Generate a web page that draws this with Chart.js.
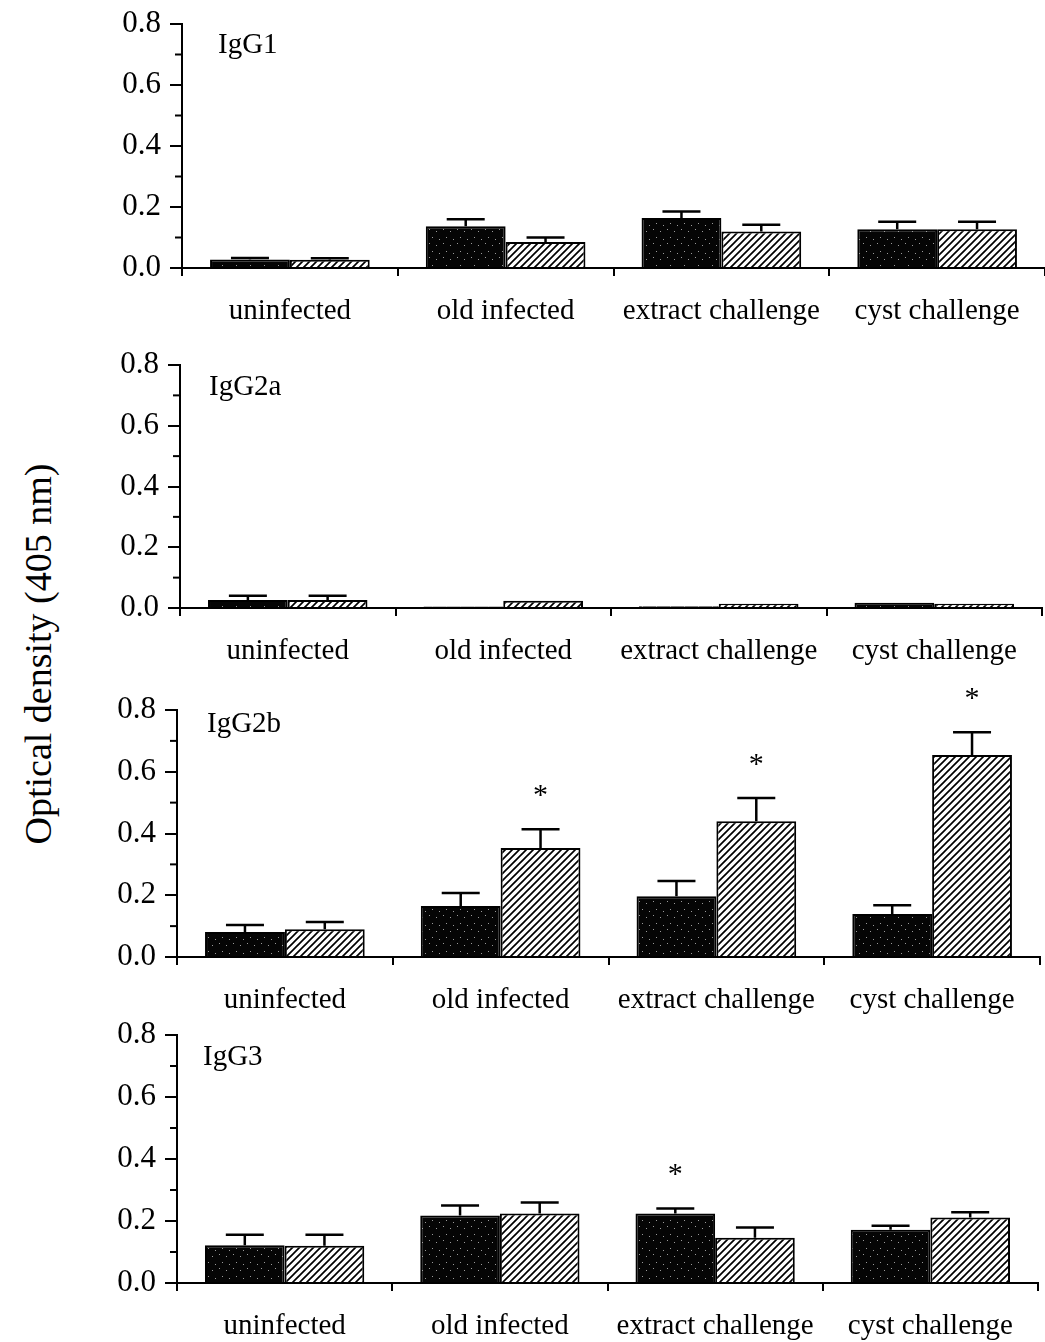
<!DOCTYPE html>
<html lang="en">
<head>
  <meta charset="UTF-8">
  <title>Optical density by IgG subclass</title>
  <script src="https://cdn.jsdelivr.net/npm/chart.js"></script>
  <style>
    body { margin: 0; background: #fff; }
    #page { position: relative; width: 1045px; height: 1342px; overflow: hidden; }
    #page canvas { position: absolute; left: 0; }
    #ytitle {
      position: absolute; left: 38px; top: 654px;
      transform: translate(-50%, -50%) rotate(-90deg);
      font: 38px "Liberation Serif", "Times New Roman", serif;
      white-space: nowrap; color: #000;
    }
  </style>
</head>
<body>
  <div id="page">
    <div id="ytitle">Optical density (405 nm)</div>
  </div>

  <script>
    // ---- data ----
    const categories = ['uninfected', 'old infected', 'extract challenge', 'cyst challenge'];
    const subclasses = ['IgG1', 'IgG2a', 'IgG2b', 'IgG3'];
    const yTicks = [0.0, 0.2, 0.4, 0.6, 0.8];

    // solid (stippled black) bars and hatched bars, with upward error
    const igg1Solid = [0.028, 0.137, 0.164, 0.127];
    const igg1SolidErr = [0.005, 0.023, 0.021, 0.025];
    const igg1Hatch = [0.027, 0.085, 0.120, 0.127];
    const igg1HatchErr = [0.005, 0.015, 0.022, 0.025];

    const igg2aSolid = [0.026, 0.005, 0.006, 0.017];
    const igg2aSolidErr = [0.014, 0, 0, 0];
    const igg2aHatch = [0.026, 0.024, 0.014, 0.014];
    const igg2aHatchErr = [0.014, 0, 0, 0];

    const igg2bSolid = [0.081, 0.165, 0.197, 0.139];
    const igg2bSolidErr = [0.023, 0.042, 0.049, 0.029];
    const igg2bHatch = [0.090, 0.353, 0.440, 0.654];
    const igg2bHatchErr = [0.023, 0.061, 0.075, 0.074];

    const igg3Solid = [0.122, 0.218, 0.224, 0.172];
    const igg3SolidErr = [0.034, 0.032, 0.016, 0.013];
    const igg3Hatch = [0.120, 0.224, 0.146, 0.211];
    const igg3HatchErr = [0.036, 0.036, 0.033, 0.017];

    // significance marks (*)
    const igg1Stars = [[false, false, false, false], [false, false, false, false]];
    const igg2aStars = [[false, false, false, false], [false, false, false, false]];
    const igg2bStars = [[false, false, false, false], [false, true, true, true]];
    const igg3Stars = [[false, false, true, false], [false, false, false, false]];

    const panelData = [
      { solid: igg1Solid, solidErr: igg1SolidErr, hatch: igg1Hatch, hatchErr: igg1HatchErr, stars: igg1Stars },
      { solid: igg2aSolid, solidErr: igg2aSolidErr, hatch: igg2aHatch, hatchErr: igg2aHatchErr, stars: igg2aStars },
      { solid: igg2bSolid, solidErr: igg2bSolidErr, hatch: igg2bHatch, hatchErr: igg2bHatchErr, stars: igg2bStars },
      { solid: igg3Solid, solidErr: igg3SolidErr, hatch: igg3Hatch, hatchErr: igg3HatchErr, stars: igg3Stars },
    ];

    // ---- layout (pixel boxes of each panel's plot area) ----
    const boxes = [
      { top: 24, bottom: 268, axisX: 182, right: 1045, labelDx: 36, labelDy: 21 },
      { top: 365, bottom: 608, axisX: 180, right: 1042, labelDx: 29, labelDy: 22 },
      { top: 710, bottom: 957, axisX: 177, right: 1040, labelDx: 30, labelDy: 14 },
      { top: 1035, bottom: 1283, axisX: 177, right: 1038, labelDx: 26, labelDy: 22 },
    ];
    const PAD_TOP = 34;
    const X_AXIS_H = 72;
    const SERIF = '"Liberation Serif", "Times New Roman", serif';

    Chart.defaults.font.family = SERIF;
    Chart.defaults.color = '#000';

    function makeStipple() {
      const c = document.createElement('canvas');
      c.width = c.height = 14;
      const g = c.getContext('2d');
      g.fillStyle = '#050505';
      g.fillRect(0, 0, 14, 14);
      g.fillStyle = '#9a9a9a';
      [[2, 3], [9, 1], [12, 9], [5, 11]].forEach(([x, y]) => g.fillRect(x, y, 1, 1));
      return g.createPattern(c, 'repeat');
    }

    function makeHatch() {
      const s = 7;
      const c = document.createElement('canvas');
      c.width = c.height = s;
      const g = c.getContext('2d');
      g.fillStyle = '#fff';
      g.fillRect(0, 0, s, s);
      g.strokeStyle = '#000';
      g.lineWidth = 1.7;
      g.beginPath();
      g.moveTo(0, s); g.lineTo(s, 0);
      g.moveTo(-1, 1); g.lineTo(1, -1);
      g.moveTo(s - 1, s + 1); g.lineTo(s + 1, s - 1);
      g.stroke();
      return g.createPattern(c, 'repeat');
    }

    // error bars, stars, minor y ticks and panel name
    const extras = {
      id: 'extras',
      afterDatasetsDraw(chart, args, opts) {
        const ctx = chart.ctx;
        const y = chart.scales.y;
        ctx.save();
        ctx.strokeStyle = '#000';
        ctx.lineWidth = 2.5;
        chart.data.datasets.forEach((ds, d) => {
          chart.getDatasetMeta(d).data.forEach((bar, i) => {
            const err = ds.errors[i];
            const topPx = y.getPixelForValue(ds.data[i] + err);
            if (err > 0) {
              ctx.beginPath();
              ctx.moveTo(bar.x, bar.y);
              ctx.lineTo(bar.x, topPx);
              ctx.moveTo(bar.x - 19, topPx);
              ctx.lineTo(bar.x + 19, topPx);
              ctx.stroke();
            }
            if (ds.stars[i]) {
              ctx.fillStyle = '#000';
              ctx.font = '30px ' + SERIF;
              ctx.textAlign = 'center';
              ctx.textBaseline = 'middle';
              ctx.fillText('*', bar.x, topPx - 33);
            }
          });
        });
        // minor ticks at the odd tenths
        ctx.lineWidth = 2;
        const left = chart.chartArea.left;
        [0.1, 0.3, 0.5, 0.7].forEach(v => {
          const py = y.getPixelForValue(v);
          ctx.beginPath();
          ctx.moveTo(left - 7, py);
          ctx.lineTo(left, py);
          ctx.stroke();
        });
        ctx.fillStyle = '#000';
        ctx.font = '29px ' + SERIF;
        ctx.textAlign = 'left';
        ctx.textBaseline = 'middle';
        ctx.fillText(opts.name, left + opts.dx, chart.chartArea.top + opts.dy);
        ctx.restore();
      }
    };

    const page = document.getElementById('page');
    const stipple = makeStipple();
    const hatch = makeHatch();

    panelData.forEach((p, k) => {
      const box = boxes[k];
      const canvas = document.createElement('canvas');
      canvas.width = 1045;
      canvas.height = PAD_TOP + (box.bottom - box.top) + X_AXIS_H;
      canvas.style.top = (box.top - PAD_TOP) + 'px';
      page.appendChild(canvas);

      new Chart(canvas.getContext('2d'), {
        type: 'bar',
        data: {
          labels: categories,
          datasets: [
            {
              label: 'solid', data: p.solid, errors: p.solidErr, stars: p.stars[0],
              backgroundColor: stipple, borderColor: '#000', borderWidth: 2,
              categoryPercentage: 0.74, barPercentage: 1.0
            },
            {
              label: 'hatched', data: p.hatch, errors: p.hatchErr, stars: p.stars[1],
              backgroundColor: hatch, borderColor: '#000', borderWidth: 2,
              categoryPercentage: 0.74, barPercentage: 1.0
            }
          ]
        },
        options: {
          responsive: false,
          animation: false,
          devicePixelRatio: 1,
          layout: { padding: { top: PAD_TOP, right: 1045 - box.right, left: 0, bottom: 0 } },
          plugins: {
            legend: { display: false },
            tooltip: { enabled: false },
            extras: { name: subclasses[k], dx: box.labelDx, dy: box.labelDy }
          },
          scales: {
            x: {
              offset: true,
              grid: { offset: true, drawOnChartArea: false, drawTicks: true, tickLength: 8, color: '#000', lineWidth: 2 },
              border: { display: true, color: '#000', width: 2 },
              ticks: { font: { size: 29 }, padding: 18, maxRotation: 0, autoSkip: false },
              afterFit: s => { s.height = X_AXIS_H; }
            },
            y: {
              min: 0,
              max: 0.8,
              afterBuildTicks: s => { s.ticks = yTicks.map(v => ({ value: v })); },
              ticks: { font: { size: 31 }, padding: 9, callback: v => v.toFixed(1) },
              grid: { drawOnChartArea: false, drawTicks: true, tickLength: 12, color: '#000', lineWidth: 2 },
              border: { display: true, color: '#000', width: 2 },
              afterFit: s => { s.width = box.axisX; }
            }
          }
        },
        plugins: [extras]
      });
    });
  </script>
</body>
</html>
